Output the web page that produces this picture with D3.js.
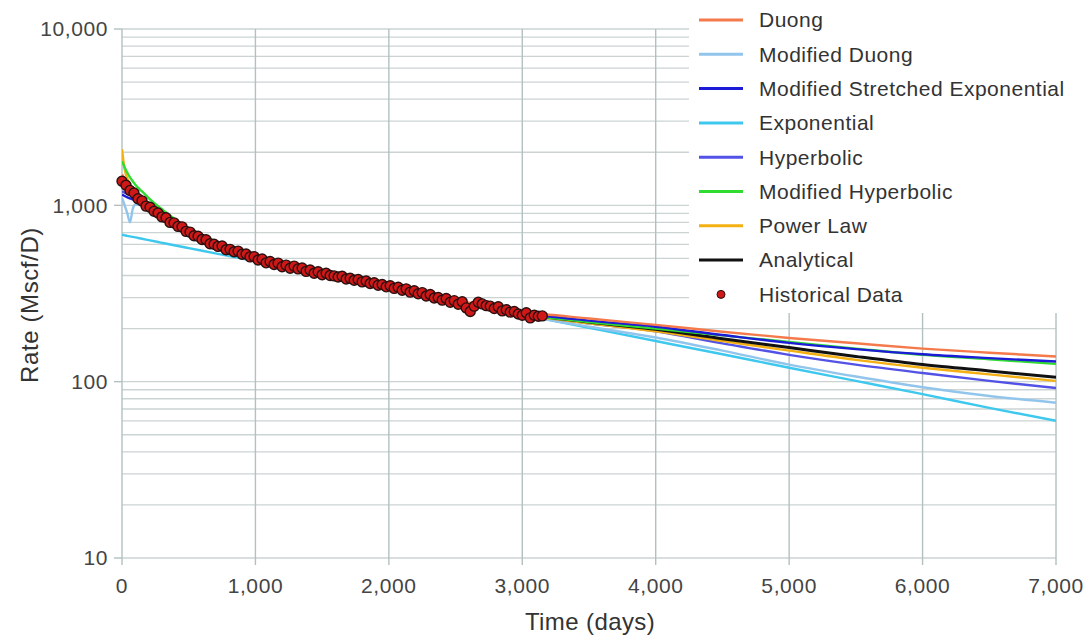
<!DOCTYPE html>
<html>
<head>
<meta charset="utf-8">
<script src="https://cdn.jsdelivr.net/npm/d3@7"></script>
<style>
  body { margin: 0; background: #fff; }
  svg { display: block; font-family: "Liberation Sans", Arial, sans-serif; }
</style>
</head>
<body>
<svg id="chart" width="1083" height="636"></svg>
<script>
var curveDays = [0, 20, 40, 60, 80, 100, 150, 200, 300, 400, 500, 700, 1000, 1500, 2000, 2500, 3000, 3500, 4000, 4500, 5000, 5500, 6000, 6500, 7000];

var duong        = [1500, 1420, 1340, 1280, 1225, 1180, 1080, 1000, 875, 790, 715, 602, 507, 412, 347, 290, 250, 228, 210, 192, 177, 165, 154, 146, 139];
var modDuong     = [1100, 1000, 900, 800, 950, 1010, 1000, 960, 860, 780, 705, 597, 503, 407, 340, 283, 238, 205, 178, 150, 125, 107, 93, 83, 76];
var modStretched = [1150, 1130, 1110, 1095, 1080, 1065, 1030, 970, 860, 780, 705, 597, 503, 408, 343, 287, 245, 222, 205, 184, 166, 153, 143, 136, 130];
var exponential  = [681, 676, 671, 667, 662, 658, 646, 635, 613, 592, 572, 534, 481, 404, 340, 286, 240, 202, 170, 143, 120, 101, 85, 71, 60];
var hyperbolic   = [1200, 1180, 1160, 1140, 1120, 1100, 1040, 975, 862, 780, 705, 596, 503, 408, 342, 285, 242, 214, 193, 165, 142, 125, 112, 101, 92];
var modHyperbolic= [1780, 1640, 1530, 1440, 1370, 1310, 1200, 1100, 950, 830, 728, 608, 500, 398, 333, 280, 241, 218, 200, 183, 168, 154, 142, 134, 126];
var powerLaw     = [2080, 1600, 1420, 1320, 1250, 1190, 1085, 1005, 880, 790, 715, 600, 502, 405, 338, 282, 241, 214, 193, 170, 150, 133, 120, 110, 101];
var analytical   = [1420, 1350, 1290, 1240, 1195, 1150, 1060, 990, 870, 785, 712, 600, 505, 410, 342, 285, 243, 218, 198, 175, 156, 139, 125, 115, 106];

// historical production
var histDays = [0, 30, 60, 90, 120, 150, 180, 210, 240, 270, 300, 330, 360, 390, 420, 450, 480, 510, 540, 570,
  600, 630, 660, 690, 720, 750, 780, 810, 840, 870, 900, 930, 960, 990, 1020, 1050, 1080, 1110, 1140, 1170,
  1200, 1230, 1260, 1290, 1320, 1350, 1380, 1410, 1440, 1470, 1500, 1530, 1560, 1590, 1620, 1650, 1680, 1710, 1740, 1770,
  1800, 1830, 1860, 1890, 1920, 1950, 1980, 2010, 2040, 2070, 2100, 2130, 2160, 2190, 2220, 2250, 2280, 2310, 2340, 2370,
  2400, 2430, 2460, 2490, 2520, 2550, 2580, 2610, 2640, 2670, 2700, 2730, 2760, 2790, 2820, 2850, 2880, 2910, 2940, 2970,
  3000, 3030, 3060, 3090, 3120, 3150];
var histRate = [1370, 1300, 1215, 1175, 1090, 1060, 990, 975, 925, 905, 860, 850, 800, 795, 760, 755, 712, 705, 672, 668,
  640, 638, 605, 602, 585, 588, 560, 563, 545, 550, 528, 530, 510, 512, 490, 496, 472, 480, 462, 470,
  448, 458, 440, 452, 436, 441, 422, 430, 412, 420, 404, 412, 400, 398, 392, 396, 382, 386, 376, 380,
  368, 372, 360, 364, 352, 356, 345, 350, 338, 343, 330, 336, 322, 328, 315, 320, 306, 312, 298, 300,
  290, 296, 282, 288, 275, 284, 262, 250, 268, 282, 276, 270, 268, 260, 266, 252, 256, 248, 250, 242,
  238, 246, 230, 238, 235, 236];

var seriesNames  = ["Duong", "Modified Duong", "Modified Stretched Exponential", "Exponential", "Hyperbolic", "Modified Hyperbolic", "Power Law", "Analytical"];
var seriesValues = [duong, modDuong, modStretched, exponential, hyperbolic, modHyperbolic, powerLaw, analytical];
var seriesColors = ["#f47a4c", "#92c5ec", "#1c1cd8", "#3ec8ee", "#5252e6", "#30dc30", "#f4b012", "#111111"];
var drawOrder    = [3, 1, 4, 6, 7, 5, 2, 0];

var xTicks = [0, 1000, 2000, 3000, 4000, 5000, 6000, 7000];
var yTicks = [10, 100, 1000, 10000];

var svg = d3.select('#chart');
var margin = {left: 122, top: 29, right: 27, bottom: 78};
var w = 1083 - margin.left - margin.right;
var h = 636 - margin.top - margin.bottom;

var x = d3.scaleLinear().domain([0, 7000]).range([0, w]);
var y = d3.scaleLog().domain([10, 10000]).range([h, 0]);

var g = svg.append('g').attr('transform', 'translate(' + margin.left + ',' + margin.top + ')');

// grid
g.append('g').selectAll('line').data(y.ticks()).join('line')
  .attr('x1', 0).attr('x2', w)
  .attr('y1', d => y(d)).attr('y2', d => y(d))
  .attr('stroke', '#cbd3d3').attr('stroke-width', 1.3);
g.append('g').selectAll('line').data(xTicks).join('line')
  .attr('x1', d => x(d)).attr('x2', d => x(d))
  .attr('y1', 0).attr('y2', h + 7)
  .attr('stroke', '#b4c0c0').attr('stroke-width', 1.4);
g.append('g').selectAll('line').data(yTicks).join('line')
  .attr('x1', -8).attr('x2', 0)
  .attr('y1', d => y(d)).attr('y2', d => y(d))
  .attr('stroke', '#b4c0c0').attr('stroke-width', 1.4);

// tick labels
g.append('g').selectAll('text').data(yTicks).join('text')
  .attr('x', -14).attr('y', d => y(d)).attr('dy', '0.35em')
  .attr('text-anchor', 'end').attr('font-size', 21).attr('letter-spacing', 0.6).attr('fill', '#444')
  .text(d3.format(','));
g.append('g').selectAll('text').data(xTicks).join('text')
  .attr('x', d => x(d)).attr('y', h + 35)
  .attr('text-anchor', 'middle').attr('font-size', 21).attr('letter-spacing', 0.6).attr('fill', '#444')
  .text(d3.format(','));

// axis titles
svg.append('text').attr('transform', 'translate(38,305) rotate(-90)')
  .attr('text-anchor', 'middle').attr('font-size', 24).attr('letter-spacing', 0.6).attr('fill', '#333')
  .text('Rate (Mscf/D)');
svg.append('text').attr('x', 590).attr('y', 630)
  .attr('text-anchor', 'middle').attr('font-size', 24).attr('letter-spacing', 0.4).attr('fill', '#333')
  .text('Time (days)');

// curves
svg.append('clipPath').attr('id', 'plot').append('rect').attr('width', w).attr('height', h);
var line = d3.line().x(d => x(d[0])).y(d => y(d[1])).curve(d3.curveMonotoneX);
var curves = g.append('g').attr('clip-path', 'url(#plot)');
drawOrder.forEach(function (i) {
  curves.append('path')
    .datum(curveDays.map((t, k) => [t, seriesValues[i][k]]))
    .attr('d', line)
    .attr('fill', 'none')
    .attr('stroke', seriesColors[i])
    .attr('stroke-width', i == 7 ? 3 : 2.4);
});

// historical dots
g.append('g').selectAll('circle').data(histDays).join('circle')
  .attr('cx', d => x(d))
  .attr('cy', (d, i) => y(histRate[i]))
  .attr('r', 5)
  .attr('fill', '#d01818')
  .attr('stroke', '#2a1010').attr('stroke-width', 1.4);

// legend
var legend = svg.append('g');
legend.append('rect').attr('x', 689).attr('y', 0).attr('width', 394).attr('height', 313).attr('fill', '#fff');
var rowY = d => 20 + d * 34.3;
seriesNames.forEach(function (name, i) {
  legend.append('line')
    .attr('x1', 699).attr('x2', 743).attr('y1', rowY(i)).attr('y2', rowY(i))
    .attr('stroke', seriesColors[i]).attr('stroke-width', 3);
  legend.append('text')
    .attr('x', 759).attr('y', rowY(i)).attr('dy', '0.35em')
    .attr('font-size', 21).attr('letter-spacing', 0.5).attr('fill', '#333')
    .text(name);
});
legend.append('circle').attr('cx', 721).attr('cy', rowY(8)).attr('r', 4)
  .attr('fill', '#d01818').attr('stroke', '#2a1010').attr('stroke-width', 1);
legend.append('text')
  .attr('x', 759).attr('y', rowY(8)).attr('dy', '0.35em')
  .attr('font-size', 21).attr('letter-spacing', 0.5).attr('fill', '#333')
  .text('Historical Data');
</script>
</body>
</html>
